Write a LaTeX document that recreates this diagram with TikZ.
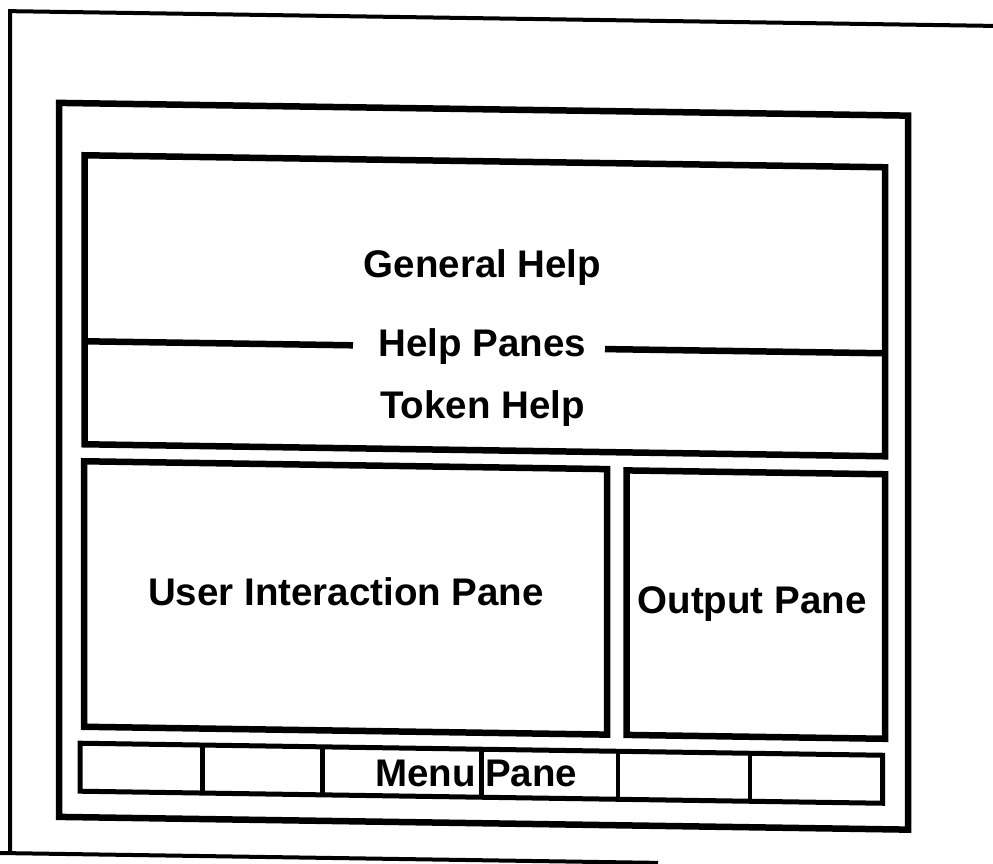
\documentclass[tikz,border=0pt]{standalone}
\usepackage{fontspec}
\setmainfont{Liberation Sans}
\begin{document}
\begin{tikzpicture}[x=1pt,y=-1pt,
  sheet/.style={line width=4pt},
  pane/.style={line width=6.5pt},
  menubox/.style={line width=5pt},
  menusep/.style={line width=4.5pt},
  label/.style={font=\bfseries\fontsize{38.5}{40}\selectfont, inner sep=0pt}]
\useasboundingbox (0,0) rectangle (993,863);

% frame and panes (the drawing is slightly skewed)
\begin{scope}[yslant=-0.015]
  % sheet edges
  \draw[sheet] (993,11) -- (10,11) -- (10,853);
  \draw[sheet] (0,853) -- (658,853);
  % window
  \draw[pane] (59,102) rectangle (908,816);
  % help panes
  \draw[pane] (84.5,154) rectangle (885,443);
  \coordinate (hl1) at (84.5,340);
  \coordinate (hl2) at (353,340);
  \coordinate (hr1) at (605,340);
  \coordinate (hr2) at (885,340);
  \draw[pane] (hl1) -- (hl2);
  \draw[pane] (hr1) -- (hr2);
  % user interaction pane
  \draw[pane] (84,460) rectangle (607,725.5);
  % output pane
  \draw[pane] (626.5,461) rectangle (885,725.5);
  % menu pane
  \draw[menubox] (80,742) rectangle (882.5,790);
  \foreach \x in {202.5,322.5,481.5,618,750}
    \draw[menusep] (\x,742) -- (\x,790);
\end{scope}

% labels
\node[label, anchor=base] (gen) at (482.5,277) {General Help};
\node[label, anchor=base] (hp) at (482.5,356) {Help Panes};
\node[label, anchor=base] (tok) at (482.5,418) {Token Help};
\node[label, anchor=base] (uip) at (346,605) {User Interaction Pane};
\node[label, anchor=base] (outp) at (752,613) {Output Pane};
\node[label, anchor=base east] (menu) at (476,786) {Menu};
\node[label, anchor=base west] (mpane) at (485,786) {Pane};
\end{tikzpicture}
\end{document}
